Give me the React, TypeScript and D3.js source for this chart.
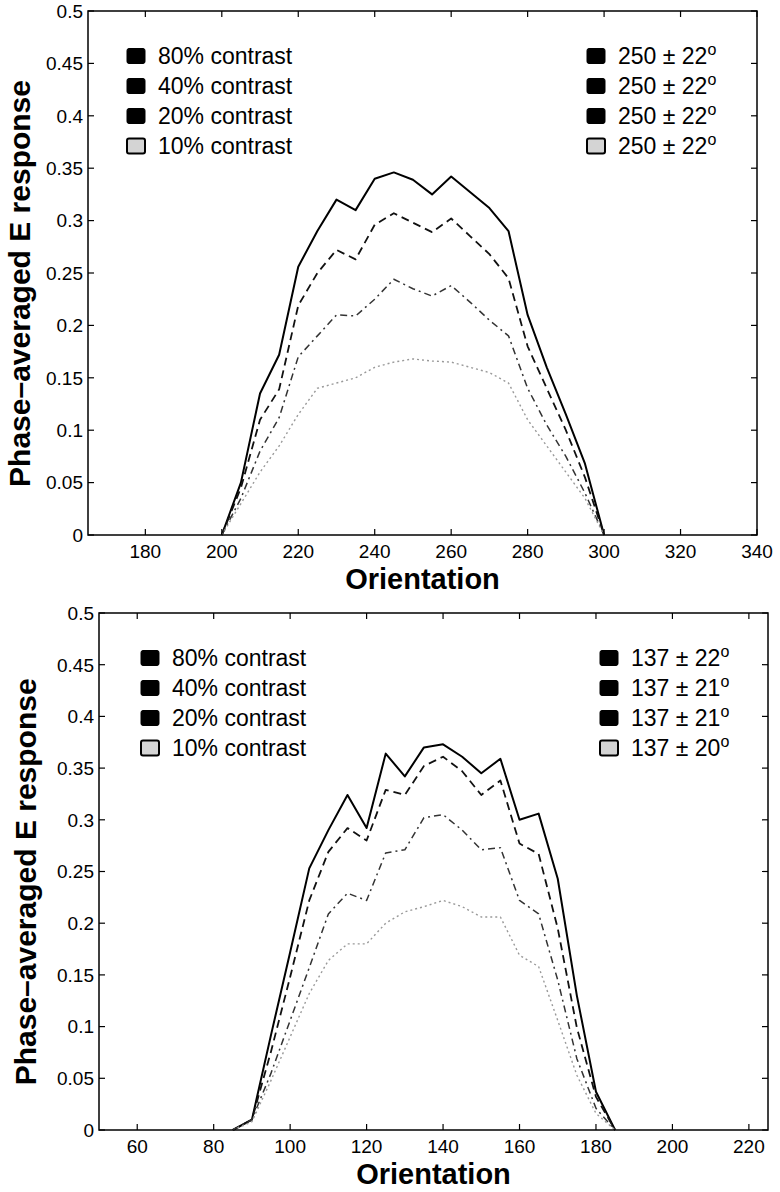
import React from "react";
import * as d3 from "d3";

// ---------- data ----------
const topOrient = [200, 205, 210, 215, 220, 225, 230, 235, 240, 245, 250, 255, 260, 265, 270, 275, 280, 285, 290, 295, 300];
const top80 = [0, 0.05, 0.135, 0.172, 0.256, 0.29, 0.32, 0.31, 0.34, 0.346, 0.339, 0.325, 0.342, 0.327, 0.312, 0.29, 0.21, 0.16, 0.115, 0.068, 0];
const top40 = [0, 0.045, 0.11, 0.139, 0.219, 0.25, 0.272, 0.263, 0.296, 0.307, 0.298, 0.289, 0.302, 0.285, 0.268, 0.245, 0.18, 0.14, 0.1, 0.055, 0];
const top20 = [0, 0.035, 0.08, 0.112, 0.17, 0.19, 0.21, 0.209, 0.225, 0.244, 0.235, 0.228, 0.238, 0.222, 0.205, 0.19, 0.14, 0.105, 0.075, 0.04, 0];
const top10 = [0, 0.03, 0.06, 0.085, 0.115, 0.14, 0.145, 0.15, 0.16, 0.165, 0.168, 0.166, 0.165, 0.16, 0.155, 0.145, 0.11, 0.085, 0.06, 0.035, 0];

const botOrient = [85, 90, 95, 100, 105, 110, 115, 120, 125, 130, 135, 140, 145, 150, 155, 160, 165, 170, 175, 180, 185];
const bot80 = [0, 0.01, 0.092, 0.172, 0.253, 0.29, 0.324, 0.292, 0.364, 0.342, 0.37, 0.373, 0.361, 0.345, 0.359, 0.3, 0.306, 0.243, 0.13, 0.037, 0];
const bot40 = [0, 0.01, 0.076, 0.148, 0.222, 0.269, 0.292, 0.28, 0.329, 0.324, 0.352, 0.361, 0.347, 0.324, 0.338, 0.277, 0.267, 0.195, 0.099, 0.032, 0];
const bot20 = [0, 0.01, 0.055, 0.106, 0.157, 0.209, 0.229, 0.222, 0.268, 0.271, 0.302, 0.305, 0.29, 0.271, 0.273, 0.222, 0.209, 0.145, 0.069, 0.021, 0];
const bot10 = [0, 0.008, 0.048, 0.09, 0.132, 0.164, 0.18, 0.18, 0.2, 0.211, 0.216, 0.222, 0.216, 0.206, 0.206, 0.169, 0.158, 0.106, 0.053, 0.016, 0];

const contrastLabels = ["80% contrast", "40% contrast", "20% contrast", "10% contrast"];
const topTuning = ["250 ± 22", "250 ± 22", "250 ± 22", "250 ± 22"];
const botTuning = ["137 ± 22", "137 ± 21", "137 ± 21", "137 ± 20"];

const topXTicks = [180, 200, 220, 240, 260, 280, 300, 320, 340];
const botXTicks = [60, 80, 100, 120, 140, 160, 180, 200, 220];
const yTicks = [0, 0.05, 0.1, 0.15, 0.2, 0.25, 0.3, 0.35, 0.4, 0.45, 0.5];

const topXDomain = [165, 340];
const botXDomain = [50, 225];

// ---------- styles ----------
const FONT = "'Liberation Sans', Arial, Helvetica, sans-serif";
const seriesStyles = [
  { stroke: "#000", width: 2, dash: null },
  { stroke: "#111", width: 1.8, dash: "8,5" },
  { stroke: "#333", width: 1.5, dash: "7,4,2,4" },
  { stroke: "#999", width: 1.4, dash: "2,3" },
];

type PanelProps = {
  left: number; right: number; top: number; bottom: number;
  xDomain: number[]; xTicks: number[]; orient: number[]; series: number[][];
  tuning: string[]; legLeftX: number; legRightX: number; legY0: number; legDy: number;
  yLabelX: number;
};

function Panel(p: PanelProps) {
  const x = d3.scaleLinear().domain(p.xDomain).range([p.left, p.right]);
  const y = d3.scaleLinear().domain([0, 0.5]).range([p.bottom, p.top]);
  const line = d3.line<[number, number]>().x((d) => x(d[0])).y((d) => y(d[1]));
  const tl = 6;
  const cx = (p.left + p.right) / 2;
  const cy = y(0.24);
  return (
    <g>
      {p.series.map((vals, i) => {
        const st = seriesStyles[i];
        const pts = p.orient.map((o, j) => [o, vals[j]] as [number, number]);
        return (
          <path key={i} d={line(pts) || ""} fill="none" stroke={st.stroke}
            strokeWidth={st.width} strokeDasharray={st.dash || undefined}
            strokeLinejoin="round" />
        );
      })}
      <rect x={p.left} y={p.top} width={p.right - p.left} height={p.bottom - p.top}
        fill="none" stroke="#000" strokeWidth={1.5} />
      {p.xTicks.map((t) => (
        <g key={"x" + t}>
          <line x1={x(t)} x2={x(t)} y1={p.bottom} y2={p.bottom - tl} stroke="#000" strokeWidth={1.2} />
          <line x1={x(t)} x2={x(t)} y1={p.top} y2={p.top + tl} stroke="#000" strokeWidth={1.2} />
          <text x={x(t)} y={p.bottom + 23} textAnchor="middle" fontSize={19} fontFamily={FONT}>{t}</text>
        </g>
      ))}
      {yTicks.map((t) => (
        <g key={"y" + t}>
          <line x1={p.left} x2={p.left + tl} y1={y(t)} y2={y(t)} stroke="#000" strokeWidth={1.2} />
          <line x1={p.right} x2={p.right - tl} y1={y(t)} y2={y(t)} stroke="#000" strokeWidth={1.2} />
          <text x={p.left - 5} y={y(t)} dy="0.36em" textAnchor="end" fontSize={19} fontFamily={FONT}>{String(t)}</text>
        </g>
      ))}
      <text x={cx} y={p.bottom + 54} textAnchor="middle" fontSize={29} fontWeight="bold" fontFamily={FONT}>Orientation</text>
      <text transform={`translate(${p.yLabelX},${cy}) rotate(-90)`} textAnchor="middle"
        fontSize={30} fontWeight="bold" fontFamily={FONT}>Phase–averaged E response</text>
      {contrastLabels.map((lab, i) => {
        const yy = p.legY0 + i * p.legDy;
        const light = i === 3;
        return (
          <g key={"l" + i}>
            <rect x={p.legLeftX} y={yy - 7.5} width={18} height={15} rx={2}
              fill={light ? "#d4d4d4" : "#000"} stroke="#000" strokeWidth={light ? 2 : 1} />
            <text x={p.legLeftX + 31} y={yy} dy="0.36em" fontSize={23} fontFamily={FONT}>{lab}</text>
            <rect x={p.legRightX} y={yy - 7.5} width={18} height={15} rx={2}
              fill={light ? "#d4d4d4" : "#000"} stroke="#000" strokeWidth={light ? 2 : 1} />
            <text x={p.legRightX + 31} y={yy} dy="0.36em" fontSize={23} fontFamily={FONT}>
              {p.tuning[i]}
              <tspan dy="-0.55em" fontSize={16}>o</tspan>
            </text>
          </g>
        );
      })}
    </g>
  );
}

export default function App() {
  return (
    <svg width={780} height={1192} viewBox="0 0 780 1192"
      style={{ position: "absolute", left: 0, top: 0, background: "#fff" }}>
      <rect x={0} y={0} width={780} height={1192} fill="#fff" />
      <Panel left={88} right={757} top={11} bottom={535}
        xDomain={topXDomain} xTicks={topXTicks} orient={topOrient}
        series={[top80, top40, top20, top10]} tuning={topTuning}
        legLeftX={127} legRightX={587} legY0={56} legDy={30} yLabelX={30} />
      <Panel left={99} right={768} top={613} bottom={1130}
        xDomain={botXDomain} xTicks={botXTicks} orient={botOrient}
        series={[bot80, bot40, bot20, bot10]} tuning={botTuning}
        legLeftX={141} legRightX={600} legY0={658} legDy={30} yLabelX={36} />
    </svg>
  );
}
